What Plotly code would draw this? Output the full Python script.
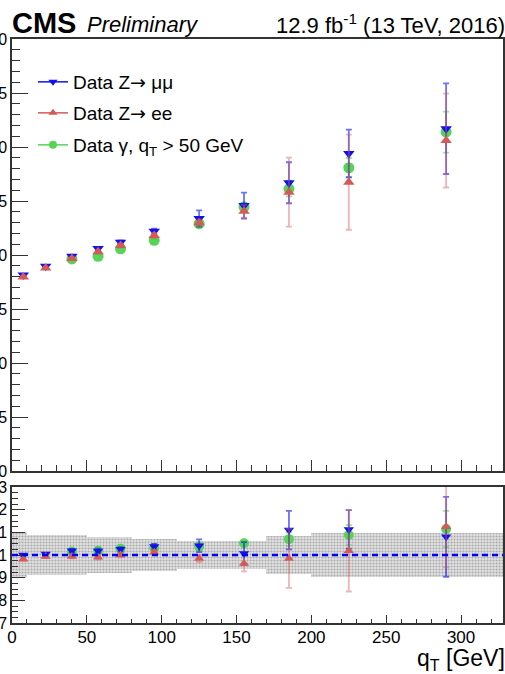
import plotly.graph_objects as go

# ---------------- data ----------------
qt = [7.5, 22.5, 40, 57.5, 72.5, 95, 125, 155, 185, 225, 290]
gamma_qt = qt[2:]

mumu = [18.15, 18.95, 19.88, 20.6, 21.18, 22.2, 23.38, 24.58, 26.69, 29.4, 31.7]
mumu_err = [0.1, 0.1, 0.12, 0.15, 0.18, 0.25, 0.75, 1.2, 1.9, 2.2, 4.2]
ee = [17.97, 18.8, 19.67, 20.29, 20.87, 21.8, 22.98, 24.05, 25.82, 26.74, 30.6]
ee_err = [0.1, 0.1, 0.12, 0.15, 0.18, 0.25, 0.3, 0.6, 3.2, 4.4, 4.35]
gamma = [19.64, 19.88, 20.57, 21.36, 22.9, 24.46, 26.13, 28.08, 31.38]
gamma_err = [0.1, 0.12, 0.15, 0.2, 0.25, 0.35, 0.7, 0.9, 1.9]

mumu_r = [1.0, 1.004, 1.019, 1.018, 1.025, 1.037, 1.041, 1.007, 1.11, 1.113, 1.08]
mumu_r_err = [0.005, 0.005, 0.008, 0.01, 0.01, 0.012, 0.028, 0.05, 0.085, 0.085, 0.176]
ee_r = [0.981, 0.993, 0.993, 0.99, 1.0, 1.012, 0.985, 0.963, 0.985, 1.019, 1.125]
ee_r_err = [0.006, 0.006, 0.008, 0.01, 0.01, 0.012, 0.015, 0.035, 0.13, 0.18, 0.18]
gamma_r = [1.015, 1.019, 1.028, 1.031, 1.037, 1.052, 1.07, 1.088, 1.115]
gamma_r_err = [0.006, 0.008, 0.008, 0.01, 0.012, 0.012, 0.03, 0.044, 0.08]

band_edges = [0, 10, 50, 80, 110, 170, 200, 330]
band_halfwidth = [0.10, 0.09, 0.08, 0.072, 0.063, 0.083, 0.097]

x_ticks_range = [0, 328]

# ---------------- styles ----------------
BLUE = "#1010f0"
RED = "#d45a5a"
GREEN = "#55d455"
FONT = "Liberation Sans, Arial, Helvetica, sans-serif"

fig = go.Figure()

# uncertainty band in ratio panel
centers = [(a + b) / 2 for a, b in zip(band_edges[:-1], band_edges[1:])]
widths = [b - a for a, b in zip(band_edges[:-1], band_edges[1:])]
fig.add_trace(go.Bar(
    x=centers, y=[2 * h for h in band_halfwidth], base=[1 - h for h in band_halfwidth],
    width=widths, xaxis="x2", yaxis="y2", showlegend=False,
    marker=dict(color="#d8d8d8", line=dict(width=0),
                pattern=dict(shape=".", fgcolor="#707070", bgcolor="#e2e2e2", size=3, solidity=0.4)),
    hoverinfo="skip",
))


def pts(x, y, err, color, symbol, errcolor, xa, ya, size=10):
    return go.Scatter(
        x=x, y=y, mode="markers", xaxis=xa, yaxis=ya, showlegend=False,
        marker=dict(color=color, symbol=symbol, size=size, line=dict(width=0)),
        error_y=dict(type="data", array=err, color=errcolor, thickness=1.8, width=3),
    )

# upper panel (order: green, blue, red on top)
fig.add_trace(pts(gamma_qt, gamma, gamma_err, GREEN, "circle", "rgba(85,212,85,0.6)", "x", "y", 11))
fig.add_trace(pts(qt, mumu, mumu_err, BLUE, "triangle-down", "rgba(16,16,240,0.6)", "x", "y"))
fig.add_trace(pts(qt, ee, ee_err, RED, "triangle-up", "rgba(212,90,90,0.45)", "x", "y"))
# ratio panel
fig.add_trace(pts(gamma_qt, gamma_r, gamma_r_err, GREEN, "circle", "rgba(85,212,85,0.6)", "x2", "y2", 10))
fig.add_trace(pts(qt, mumu_r, mumu_r_err, BLUE, "triangle-down", "rgba(16,16,240,0.6)", "x2", "y2", 9))
fig.add_trace(pts(qt, ee_r, ee_r_err, RED, "triangle-up", "rgba(212,90,90,0.45)", "x2", "y2", 9))

# legend entries (marker + line style)
ARROW = '<span style="font-family:DejaVu Sans">\u2192</span>'
leg = [("Data Z" + ARROW + " \u03bc\u03bc", BLUE, "triangle-down", "legend"),
       ("Data Z" + ARROW + " ee", RED, "triangle-up", "legend2"),
       ("Data \u03b3, q<sub>T</sub> > 50 GeV", GREEN, "circle", "legend3")]
for name, col, sym, lg in leg:
    fig.add_trace(go.Scatter(
        x=[None], y=[None], mode="lines+markers", name=name, legend=lg,
        marker=dict(color=col, symbol=sym, size=8),
        line=dict(color=col, width=1.5), xaxis="x", yaxis="y",
    ))

W, H = 505, 674
ML, MR, MT, MB = 12, 2, 39, 51
PW, PH = W - ML - MR, H - MT - MB


def px(x):
    return (x - ML) / PW


def py(y):
    return (H - MB - y) / PH


axis_common = dict(showline=True, linecolor="#333333", linewidth=1.5, mirror=True,
                   ticks="inside", tickcolor="#333333", showgrid=False, zeroline=False,
                   automargin=False,
                   tickfont=dict(family=FONT, size=16, color="black"))

legend_common = dict(font=dict(family=FONT, size=19, color="black"), bgcolor="rgba(0,0,0,0)",
                     xanchor="left", yanchor="middle", itemwidth=30)

fig.update_layout(
    width=W, height=H,
    margin=dict(l=ML, r=MR, t=MT, b=MB, autoexpand=False),
    paper_bgcolor="white", plot_bgcolor="white",
    font=dict(family=FONT, color="black"),
    bargap=0,
    xaxis=dict(**axis_common, domain=[0, 1], anchor="y", range=x_ticks_range, dtick=50,
               showticklabels=False, ticklen=11, matches="x2",
               minor=dict(dtick=10, ticklen=6, ticks="inside", tickcolor="#333333")),
    yaxis=dict(**axis_common, domain=[py(471), 1], anchor="x", range=[0, 40], dtick=5,
               ticklen=16, minor=dict(dtick=1, ticklen=8, ticks="inside", tickcolor="#333333")),
    xaxis2=dict(**{**axis_common, "tickfont": dict(family=FONT, size=17, color="black")},
                domain=[0, 1], anchor="y2", range=x_ticks_range, dtick=50,
                ticklen=8, ticklabelstandoff=-2,
                minor=dict(dtick=10, ticklen=4, ticks="inside", tickcolor="#333333")),
    yaxis2=dict(**axis_common, domain=[0, py(487)], anchor="x2", range=[0.7, 1.3], dtick=0.1,
                ticklen=13, minor=dict(dtick=0.025, ticklen=6, ticks="inside", tickcolor="#333333")),
    legend=dict(**legend_common, x=px(33), y=py(82)),
    legend2=dict(**legend_common, x=px(33), y=py(113)),
    legend3=dict(**legend_common, x=px(33), y=py(145)),
    shapes=[dict(type="line", xref="x2 domain", yref="y2", x0=0, x1=1, y0=1, y1=1,
                 line=dict(color="#0000ff", width=2.5, dash="6px,4px"))],
    annotations=[
        dict(text="<b>CMS</b>", xref="paper", yref="paper", x=px(10), y=py(23),
             xanchor="left", yanchor="middle", showarrow=False,
             font=dict(family=FONT, size=29, color="black")),
        dict(text="<i>Preliminary</i>", xref="paper", yref="paper", x=px(85), y=py(24),
             xanchor="left", yanchor="middle", showarrow=False,
             font=dict(family=FONT, size=22, color="black")),
        dict(text="12.9 fb<sup>-1</sup> (13 TeV, 2016)", xref="paper", yref="paper",
             x=px(507), y=py(24), xanchor="right", yanchor="middle", showarrow=False,
             font=dict(family=FONT, size=22, color="black")),
        dict(text="q<sub>T</sub> [GeV]", xref="paper", yref="paper", x=px(507), y=py(659),
             xanchor="right", yanchor="middle", showarrow=False,
             font=dict(family=FONT, size=23, color="black")),
    ],
)

fig.write_html("out.html")
